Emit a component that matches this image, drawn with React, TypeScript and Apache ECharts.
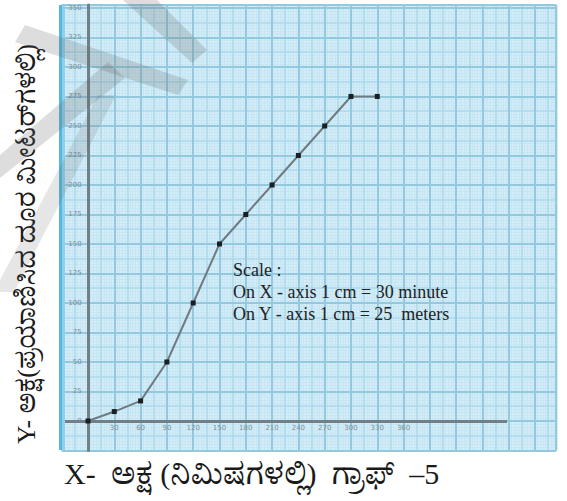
import React, { useEffect, useRef } from "react";
import * as echarts from "echarts";

// ---- data ----
const minutes = [0, 30, 60, 90, 120, 150, 180, 210, 240, 270, 300, 330];
const distanceMeters = [0, 8, 17, 50, 100, 150, 175, 200, 225, 250, 275, 275];
const xTickStep = 30;
const yTickStep = 25;
const xLabelMax = 360;
const yLabelMax = 350;
const xAxisLineRange = [-28, 478];
const xTitle = "X-  ಅಕ್ಷ (ನಿಮಿಷಗಳಲ್ಲಿ)  ಗ್ರಾಫ್  –5";
const yTitle = "Y- ಅಕ್ಷ(ಪ್ರಯಾಣಿಸಿದ ದೂರ ಮೀಟರ್‌ಗಳಲ್ಲಿ)";
const scaleLines = [
  "Scale :",
  "On X - axis 1 cm = 30 minute",
  "On Y - axis 1 cm = 25  meters",
];

const X_MIN = -30;
const X_MAX = 534;
const Y_MIN = -25;
const Y_MAX = 352.5;

const TITLE_FONT =
  '"Liberation Serif", "Noto Serif Kannada", "Noto Sans Kannada", "DejaVu Serif", serif';

export default function App() {
  const ref = useRef<HTMLDivElement>(null);

  useEffect(() => {
    const chart = echarts.init(ref.current!, null, { renderer: "svg" });
    const gridBox = { left: 61.7, top: 5, width: 494.4, height: 445.5 };
    const hidden = {
      axisLine: { show: false },
      axisTick: { show: false },
      axisLabel: { show: false },
    };
    const xGridAxis = (interval: number, color: string, width: number, z: number) => ({
      type: "value",
      position: "bottom",
      min: X_MIN,
      max: X_MAX,
      interval,
      z,
      ...hidden,
      splitLine: { show: true, lineStyle: { color, width } },
    });
    const yGridAxis = (interval: number, color: string, width: number, z: number) => ({
      type: "value",
      position: "left",
      min: Y_MIN,
      max: Y_MAX,
      interval,
      z,
      ...hidden,
      splitLine: { show: true, lineStyle: { color, width } },
    });

    const option: any = {
      animation: false,
      backgroundColor: "#ffffff",
      grid: { ...gridBox, containLabel: false },
      xAxis: [
        {
          type: "value",
          position: "bottom",
          min: X_MIN,
          max: X_MAX,
          interval: xTickStep,
          z: 3,
          axisLine: { show: false, onZero: false },
          axisTick: { show: false },
          axisLabel: {
            show: true,
            fontSize: 7,
            color: "#7f8f99",
            margin: -26,
            fontFamily: "DejaVu Sans",
            formatter: (v: number) =>
              v > 0 && v <= xLabelMax && v % xTickStep === 0 ? String(v) : "",
          },
          splitLine: { show: true, lineStyle: { color: "#93c9de", width: 2 } },
        },
        xGridAxis(15, "#acd9eb", 1.5, 1),
        xGridAxis(3, "#c7e6f3", 1, 0),
      ],
      yAxis: [
        {
          type: "value",
          position: "left",
          min: Y_MIN,
          max: Y_MAX,
          interval: yTickStep,
          z: 3,
          axisLine: { show: true, onZero: true, lineStyle: { color: "#717f88", width: 3 } },
          axisTick: { show: false },
          axisLabel: {
            show: true,
            fontSize: 7,
            color: "#7f8f99",
            margin: -20,
            fontFamily: "DejaVu Sans",
            formatter: (v: number) =>
              v >= 0 && v <= yLabelMax && v % yTickStep === 0 ? String(v) : "",
          },
          splitLine: { show: true, lineStyle: { color: "#93c9de", width: 2 } },
        },
        yGridAxis(12.5, "#acd9eb", 1.5, 1),
        yGridAxis(2.5, "#c7e6f3", 1, 0),
      ],
      series: [
        {
          type: "line",
          xAxisIndex: 0,
          yAxisIndex: 0,
          z: 5,
          data: minutes.map((m, i) => [m, distanceMeters[i]]),
          symbol: "rect",
          symbolSize: 5,
          itemStyle: { color: "#1b1f22" },
          lineStyle: { color: "#6e7b82", width: 2 },
          markLine: {
            silent: true,
            symbol: "none",
            label: { show: false },
            lineStyle: { color: "#717f88", width: 3, type: "solid" },
            data: [
              [
                { coord: [xAxisLineRange[0], 0] },
                { coord: [xAxisLineRange[1], 0] },
              ],
            ],
          },
        },
      ],
      graphic: [
        {
          type: "rect",
          z: -10,
          silent: true,
          shape: { x: 59, y: 5, width: 499, height: 445 },
          style: { fill: "#d4edf8" },
        },
        {
          type: "rect",
          z: 10,
          silent: true,
          shape: { x: 59, y: 5, width: 3, height: 445 },
          style: { fill: "#56b8df" },
        },
        {
          type: "rect",
          z: 10,
          silent: true,
          shape: { x: 62, y: 5, width: 3, height: 445 },
          style: { fill: "#8fd0ec" },
        },
        {
          type: "text",
          z: 20,
          x: 233,
          y: 259,
          style: {
            text: scaleLines.join("\n"),
            fontFamily: '"Liberation Serif", "DejaVu Serif", serif',
            fontSize: 18,
            lineHeight: 22,
            fill: "#222222",
            textAlign: "left",
            textVerticalAlign: "top",
          },
        },
        {
          type: "text",
          z: 20,
          x: 64,
          y: 473,
          style: {
            text: xTitle,
            fontFamily: TITLE_FONT,
            fontSize: 30,
            fill: "#1a1a1a",
            textAlign: "left",
            textVerticalAlign: "middle",
          },
        },
        {
          type: "text",
          z: 20,
          x: 26,
          y: 444,
          rotation: Math.PI / 2,
          style: {
            text: yTitle,
            fontFamily: TITLE_FONT,
            fontSize: 25.5,
            fill: "#1a1a1a",
            textAlign: "left",
            textVerticalAlign: "middle",
          },
        },
        // grey watermark strokes
        {
          type: "polygon",
          z: 30,
          silent: true,
          shape: { points: [[123, 0], [157, 0], [207, 50], [192, 63]] },
          style: { fill: "rgba(100,100,100,0.22)" },
        },
        {
          type: "polygon",
          z: 30,
          silent: true,
          shape: { points: [[25, 25], [188, 80], [178, 95], [15, 42]] },
          style: { fill: "rgba(100,100,100,0.22)" },
        },
        {
          type: "polygon",
          z: 30,
          silent: true,
          shape: { points: [[108, 62], [125, 78], [0, 178], [0, 155]] },
          style: { fill: "rgba(100,100,100,0.22)" },
        },
        {
          type: "polygon",
          z: 30,
          silent: true,
          shape: { points: [[98, 95], [116, 95], [14, 292], [0, 292], [0, 280]] },
          style: { fill: "rgba(100,100,100,0.16)" },
        },
      ],
    };

    chart.setOption(option);
    return () => chart.dispose();
  }, []);

  return (
    <div
      ref={ref}
      style={{ position: "absolute", left: 0, top: 0, width: 567, height: 501 }}
    />
  );
}
